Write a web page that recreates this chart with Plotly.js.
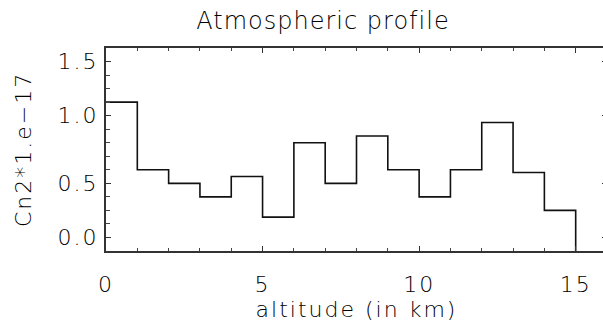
<!DOCTYPE html>
<html>
<head>
<meta charset="utf-8">
<script src="https://cdn.plot.ly/plotly-3.0.1.min.js"></script>
<style>
html, body { margin: 0; padding: 0; overflow: hidden; background: #fff; }
#chart { width: 610px; height: 326px; }
#chart text { letter-spacing: 2px; }
#chart .gtitle { letter-spacing: 1px; }
</style>
</head>
<body>
<div id="chart"></div>
<script>
// Altitude bin edges (km) and Cn2 values (x 1e-17) per 1-km layer
const altitude = [0, 1, 2, 3, 4, 5, 6, 7, 8, 9, 10, 11, 12, 13, 14, 15];
const cn2 = [1.10, 0.60, 0.50, 0.40, 0.55, 0.25, 0.80, 0.50, 0.85, 0.60, 0.40, 0.60, 0.95, 0.58, 0.30, 0.0];
const yTickVals = [0.1, 0.5, 1.0, 1.4];
const yTickText = ['0.0', '0.5', '1.0', '1.5'];
const xTickVals = [0, 5, 10, 15];

const FONT = 'DejaVu Sans, Liberation Sans, sans-serif';
const TXT = '#000000';

const trace = {
  x: altitude,
  y: cn2,
  type: 'scatter',
  mode: 'lines',
  line: { shape: 'hv', color: '#111', width: 1.6 },
  hoverinfo: 'skip',
  showlegend: false
};

const layout = {
  width: 610,
  height: 326,
  margin: { l: 106, r: 3, t: 48, b: 75, pad: 0 },
  paper_bgcolor: '#fff',
  plot_bgcolor: '#fff',
  font: { family: FONT, color: TXT, size: 22, weight: 200 },
  title: {
    text: 'Atmospheric profile',
    font: { family: FONT, size: 24, color: TXT, weight: 200 },
    xref: 'container', yref: 'container',
    x: 323 / 610, xanchor: 'center',
    y: 1 - 21 / 326, yanchor: 'middle'
  },
  xaxis: {
    range: [0, 16],
    tickvals: xTickVals,
    ticks: 'inside', ticklen: 5, tickwidth: 1.2, tickcolor: '#333',
    minor: { dtick: 1, ticks: 'inside', ticklen: 3, tickwidth: 1, tickcolor: '#444' },
    showline: true, linecolor: '#333', linewidth: 2, mirror: 'ticks',
    showgrid: false, zeroline: false,
    ticklabelstandoff: 13,
    tickfont: { family: FONT, size: 22, color: TXT, weight: 200 },
    title: { text: 'altitude (in km)', font: { family: FONT, size: 22, color: TXT, weight: 200 }, standoff: 3 },
    automargin: false, fixedrange: true
  },
  yaxis: {
    range: [0, 1.5],
    tickvals: yTickVals,
    ticktext: yTickText,
    ticks: 'inside', ticklen: 5, tickwidth: 1.2, tickcolor: '#333',
    minor: { tickvals: [0.2, 0.3, 0.4, 0.6, 0.7, 0.8, 0.9, 1.1, 1.2, 1.3], ticks: 'inside', ticklen: 4, tickwidth: 1, tickcolor: '#444' },
    showline: true, linecolor: '#333', linewidth: 2, mirror: 'ticks',
    showgrid: false, zeroline: false,
    ticklabelstandoff: 1,
    tickfont: { family: FONT, size: 22, color: TXT, weight: 200 },
    title: { text: 'Cn2*1.e\u221217', font: { family: FONT, size: 22, color: TXT, weight: 200 }, standoff: 26 },
    automargin: false, fixedrange: true
  }
};

Plotly.newPlot('chart', [trace], layout, { displayModeBar: false, staticPlot: true });
</script>
</body>
</html>
